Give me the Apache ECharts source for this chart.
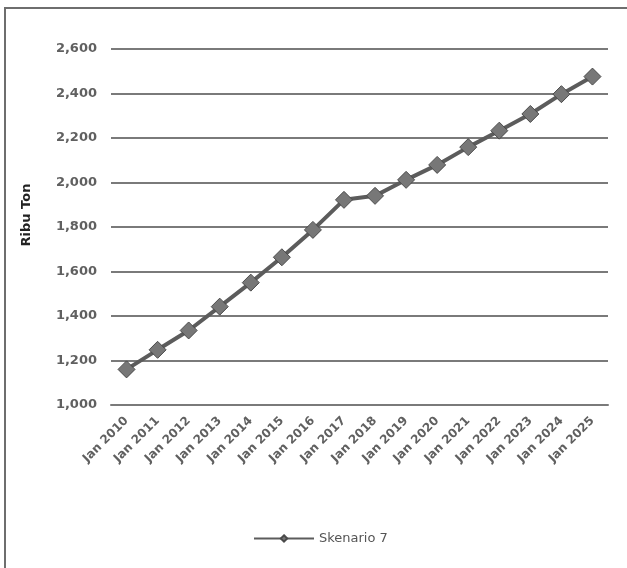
<!DOCTYPE html>
<html>
<head>
<meta charset="utf-8">
<script src="https://cdn.jsdelivr.net/npm/echarts@6/dist/echarts.min.js"></script>
<style>
  html, body { margin: 0; padding: 0; background: #fff; }
  #frame { position: absolute; left: 4px; top: 7px; width: 640px; height: 600px;
           border-left: 2px solid #6e6e6e; border-top: 2px solid #6e6e6e; }
  #chart { position: absolute; left: 0; top: 0; width: 627px; height: 568px; }
</style>
</head>
<body>
<div id="frame"></div>
<div id="chart"></div>
<script>
// data
var years = ['Jan 2010','Jan 2011','Jan 2012','Jan 2013','Jan 2014','Jan 2015','Jan 2016','Jan 2017',
             'Jan 2018','Jan 2019','Jan 2020','Jan 2021','Jan 2022','Jan 2023','Jan 2024','Jan 2025'];
var skenario7 = [1160, 1248, 1335, 1442, 1550, 1664, 1787, 1922,
                 1940, 2012, 2079, 2159, 2233, 2308, 2397, 2476];
var seriesName = 'Skenario 7';
var yName = 'Ribu Ton';

var chart = echarts.init(document.getElementById('chart'));
var option = {
  backgroundColor: 'transparent',
  animation: false,
  grid: { left: 111, right: 19, top: 49, bottom: 163 },
  legend: {
    top: 527,
    left: 248,
    itemWidth: 60,
    itemHeight: 8,
    itemGap: 4,
    data: [seriesName],
    textStyle: { color: '#555', fontSize: 13, fontFamily: 'DejaVu Sans' }
  },
  xAxis: {
    type: 'category',
    data: years,
    boundaryGap: true,
    axisLine: { show: true, lineStyle: { color: '#7a7a7a', width: 2 } },
    axisTick: { show: false },
    axisLabel: {
      rotate: 45, interval: 0, margin: 14,
      color: '#606060', fontSize: 12, fontWeight: 'bold', fontFamily: 'DejaVu Sans'
    }
  },
  yAxis: {
    type: 'value',
    min: 1000, max: 2600, interval: 200,
    name: yName,
    nameLocation: 'middle',
    nameRotate: 90,
    nameGap: 78,
    nameTextStyle: { color: '#222', fontSize: 13, fontWeight: 'bold', fontFamily: 'DejaVu Sans',
                     padding: [0, 0, 0, 24] },
    axisLine: { show: false },
    axisTick: { show: false },
    axisLabel: {
      margin: 14, color: '#606060', fontSize: 13, fontWeight: 'bold', fontFamily: 'DejaVu Sans',
      formatter: function (v) { return v.toLocaleString('en-US'); }
    },
    splitLine: { lineStyle: { color: '#7a7a7a', width: 2 } }
  },
  series: [{
    name: seriesName,
    type: 'line',
    data: skenario7,
    symbol: 'diamond',
    symbolSize: 17,
    lineStyle: { color: '#5c5c5c', width: 4 },
    itemStyle: { color: '#777777', borderColor: '#4a4a4a', borderWidth: 1 }
  }]
};
chart.setOption(option);
</script>
</body>
</html>
